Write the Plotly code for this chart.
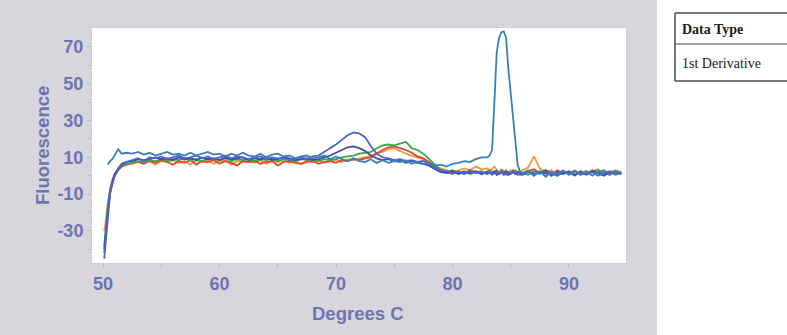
import plotly.graph_objects as go

# ---- temperature grid (degrees C) ----
temps_start = [50.1, 50.2, 50.4, 50.6, 50.8, 51.0, 51.3, 51.6, 52.0]
temps_mid = [52.5, 53.0, 53.5, 54.0, 54.5, 55.0, 55.5, 56.0, 56.5, 57.0,
             57.5, 58.0, 58.5, 59.0, 59.5, 60.0, 60.5, 61.0, 61.5, 62.0,
             62.5, 63.0, 63.5, 64.0, 64.5, 65.0, 65.5, 66.0, 66.5, 67.0,
             67.5, 68.0, 68.5, 69.0, 69.5, 70.0, 70.5, 71.0, 71.5, 72.0,
             72.5, 73.0, 73.5, 74.0, 74.5, 75.0, 75.5, 76.0, 76.5, 77.0,
             77.5, 78.0, 78.5, 79.0, 79.5, 80.0, 80.5, 81.0, 81.5, 82.0,
             82.5]
temps_peak = [83.0, 83.2, 83.4, 83.6, 83.8, 84.0, 84.2, 84.4, 84.6, 84.8,
              85.0, 85.2, 85.4, 85.6, 85.8]
temps_end = [86.0, 86.5, 87.0, 87.5, 88.0, 88.5, 89.0, 89.5, 90.0, 90.5,
             91.0, 91.5, 92.0, 92.5, 93.0, 93.5, 94.0, 94.5]
temps = temps_start + temps_mid + temps_peak + temps_end

# ---- series values (1st derivative fluorescence) ----
steel_blue = (
    [None, None, 6, 8, 9, 11, 14.5, 12, 12.5]
    + [12, 13, 11.5, 12.5, 11, 12, 13, 11.5, 12, 11,
       12.5, 11, 12, 13, 11.5, 12, 10.5, 12, 11, 12.5,
       11, 10.5, 12, 10, 11.5, 12, 10.5, 11, 9.5, 10.5,
       11, 9.5, 10, 11, 9, 10.5, 9, 8, 9.5, 8,
       7.5, 9, 7, 8.5, 7, 8, 7.5, 8.5, 6.5, 7.5,
       6.5, 7, 5.5, 6, 5, 6.5, 7, 8, 7.5, 9,
       10]
    + [10, 11, 14, 40, 67, 75, 78, 78.5, 75, 58, 45, 31, 18, 6, 2]
    + [1.5, 3, 0, 2.5, -0.5, 2, 1, 3, 0.5, 2.5,
       1, 2.5, 0, 2, 3, 1, 2.5, 1.5]
)
royal_blue = (
    [-45, -38, -22, -10, -4, 0, 4, 6, 7.5]
    + [8.5, 9.5, 8, 10, 9.5, 10.5, 9, 10, 11, 9.5,
       10, 11, 9.5, 10.5, 9, 10, 11, 9.5, 10.5, 10,
       9, 10, 10.5, 9, 10, 9.5, 10, 8.5, 9.5, 10,
       9, 10.5, 11, 13, 15, 17, 19.5, 22, 23.5, 23,
       21, 16, 12, 10, 9.5, 8.5, 9, 8, 8.5, 7.5,
       8, 6.5, 4, 3, 2.5, 1.5, 2, 1, 2.5, 1.5,
       2]
    + [1, 2, 0.5, 1.5, 2.5, 1, 2, 0.5, 1.5, 2, 1, 2.5, 1.5, 0.5, 2]
    + [1, 2, 0.5, 2.5, 1, 1.5, 0, 2, 1, 2.5,
       0.5, 1.5, 2, 0, 1.5, 2.5, 1, 2]
)
navy = (
    [-40, -34, -20, -9, -3, 1, 4, 6.5, 7.5]
    + [8, 9, 8.5, 9, 10, 9, 9.5, 8.5, 10, 9,
       9.5, 8.5, 10, 9, 9.5, 8.5, 10, 9, 9.5, 10,
       8.5, 9.5, 9, 10, 8.5, 9, 10, 9.5, 8.5, 9,
       9.5, 8.5, 9, 10, 11, 12.5, 14, 15.5, 16, 15,
       13.5, 11, 9.5, 8.5, 9, 8, 8.5, 7, 8, 7,
       6.5, 5.5, 3.5, 2, 1.5, 2.5, 1, 2, 1.5, 2.5,
       1]
    + [2, 1.5, 1, 2.5, 0.5, 1.5, 2, 1, 2.5, 0.5, 1.5, 2, 1, 2, 1.5]
    + [0.5, 2.5, 1, 1.5, 3, 0, 2, 1, 2.5, 0.5,
       2, 1, 2.5, 1.5, 0, 2, 1.5, 1]
)
green = (
    [-38, -30, -18, -8, -3, 0.5, 3.5, 5.5, 6.5]
    + [7, 8, 7.5, 8.5, 8, 9, 8, 9, 8.5, 9.5,
       8.5, 9, 8, 9.5, 9, 8.5, 9.5, 8, 9, 8.5,
       9, 8, 9, 8.5, 9.5, 8, 9, 8.5, 8, 9,
       8.5, 9, 8, 9, 8.5, 9, 10, 10.5, 11, 12,
       12.5, 13, 15, 16.5, 17, 16.5, 17.5, 18.5, 15, 14,
       12, 9, 6, 3, 2, 3, 1.5, 2.5, 1, 2,
       2.5]
    + [1, 3, 2, 1.5, 2.5, 1, 3, 2, 1.5, 0.5, 2, 1.5, 3, 1, 2]
    + [1.5, 0.5, 2.5, 1, 3, 1.5, 0, 2, 1, 2.5,
       1.5, 0.5, 2, 3, 1, 2, 0.5, 1.5]
)
orange = (
    [-30, -26, -15, -7, -2, 1, 3, 5, 6]
    + [6.5, 7.5, 7, 8, 6, 8, 7.5, 8.5, 7, 8,
       6, 8.5, 7.5, 8, 6.5, 8, 8.5, 6, 8, 7.5,
       8, 7, 8.5, 6.5, 8, 7.5, 8.5, 7, 8, 6.5,
       8, 7.5, 8.5, 7, 8, 8.5, 7.5, 9, 8.5, 9.5,
       10, 11, 12.5, 13, 14.5, 15, 13.5, 12, 11, 10,
       9, 7, 5, 4, 3, 2, 3, 4, 3, 5,
       3.5]
    + [4, 2.5, 3.5, 5, 3, 2, 3.5, 2, 3, 1.5, 3, 2, 2.5, 1.5, 2]
    + [3, 4.5, 10.5, 4, 2, 3, 1, 2.5, 1.5, 3,
       0.5, 2, 2.5, 3.5, 1, 2, 3, 2]
)
red = (
    [-42, -34, -19, -9, -4, 0, 3, 5, 6]
    + [7, 7.5, 6.5, 8, 7, 8.5, 7.5, 6, 8, 7,
       8.5, 6, 8, 7.5, 8.5, 6.5, 8, 7, 5.5, 8,
       7.5, 8, 6.5, 7.5, 8, 5.5, 7.5, 8, 7, 6.5,
       7.5, 8, 6.5, 7.5, 8, 7, 8.5, 8, 9, 8.5,
       9.5, 10, 12, 14, 15.5, 16, 15, 14, 12.5, 10.5,
       9.5, 7.5, 5, 3, 2, 1, 2.5, 1.5, 3, 2,
       1]
    + [2.5, 1.5, 1, 2, 3, 1, 1.5, 2.5, 0.5, 2, 1.5, 3, 1, 2, 0.5]
    + [1, 2.5, 3.5, 1.5, 2, 0.5, 3, 1.5, 2, 0,
       2.5, 1, 3, 1.5, 2, 0.5, 2.5, 1]
)

series_names = ["Orange", "Red", "Green", "Navy", "Royal blue", "Steel blue"]
series_values = [orange, red, green, navy, royal_blue, steel_blue]
series_colors = ["#f09a35", "#e0482e", "#3fa648", "#3c4fa8", "#4f62d6", "#3a80b8"]

x_ticks = [50, 60, 70, 80, 90]
x_tick_text = ["50", "60", "70", "80", "90"]
y_ticks = [70, 50, 30, 10, -10, -30]
y_tick_text = ["70", "50", "30", "10", "-10", "-30"]

# ---- layout geometry (pixels) ----
W, H = 787, 335
L, R, T, B = 92, 626, 28, 263

def px_x(p):
    return (p - L) / (R - L)

def px_y(p):
    return (B - p) / (B - T)

fig = go.Figure()
for name, vals, col in zip(series_names, series_values, series_colors):
    fig.add_trace(go.Scatter(x=temps, y=vals, mode="lines", name=name,
                             line=dict(color=col, width=1.8), showlegend=False))

label_color = "#6c74b2"
tick_font = dict(family="Liberation Sans, Arial", size=18, color=label_color, weight="bold")

fig.update_xaxes(range=[49.05, 94.9], tickvals=x_ticks, ticktext=x_tick_text,
                 ticks="outside", ticklen=4,
                 tickcolor="#b8b8c8", showgrid=False, zeroline=False,
                 showline=True, linecolor="#cfcfd8", linewidth=1, mirror=True,
                 tickfont=tick_font,
                 minor=dict(tickvals=[55, 65, 75, 85, 95], ticks="outside",
                            ticklen=4, tickcolor="#b8b8c8"))
fig.update_yaxes(range=[-47.4, 80.3], tickvals=y_ticks, ticktext=y_tick_text,
                 ticks="outside", ticklen=4,
                 tickcolor="#b8b8c8", showgrid=False, zeroline=False,
                 showline=True, linecolor="#cfcfd8", linewidth=1, mirror=True,
                 tickfont=tick_font,
                 minor=dict(tickvals=[60, 40, 20, 0, -20, -40], ticks="outside",
                            ticklen=4, tickcolor="#b8b8c8"))

shapes = [
    # white area to the right of the grey panel
    dict(type="rect", xref="paper", yref="paper", x0=px_x(657), x1=px_x(W + 20),
         y0=px_y(H + 20), y1=px_y(-20), fillcolor="white", line=dict(width=0),
         layer="below"),
    # data type table borders
    dict(type="line", xref="paper", yref="paper", x0=px_x(675), x1=px_x(W + 10),
         y0=px_y(13), y1=px_y(13), line=dict(color="#4a4a4a", width=1.5)),
    dict(type="line", xref="paper", yref="paper", x0=px_x(675), x1=px_x(W + 10),
         y0=px_y(44), y1=px_y(44), line=dict(color="#4a4a4a", width=1.2)),
    dict(type="line", xref="paper", yref="paper", x0=px_x(675), x1=px_x(W + 10),
         y0=px_y(81), y1=px_y(81), line=dict(color="#4a4a4a", width=1.5)),
    dict(type="line", xref="paper", yref="paper", x0=px_x(675), x1=px_x(675),
         y0=px_y(13), y1=px_y(81), line=dict(color="#4a4a4a", width=1.5)),
]

title_font = dict(family="Liberation Sans, Arial", size=18.5, color=label_color, weight="bold")
annotations = [
    dict(text="Degrees C", xref="paper", yref="paper", x=px_x(358), y=px_y(313),
         xanchor="center", yanchor="middle", showarrow=False, font=title_font),
    dict(text="Fluorescence", xref="paper", yref="paper", x=px_x(42), y=px_y(146),
         xanchor="center", yanchor="middle", showarrow=False, textangle=-90,
         font=title_font),
    dict(text="<b>Data Type</b>", xref="paper", yref="paper", x=px_x(680), y=px_y(29),
         xanchor="left", yanchor="middle", showarrow=False,
         font=dict(family="Liberation Serif, Times New Roman", size=14, color="#1a1a1a")),
    dict(text="1st Derivative", xref="paper", yref="paper", x=px_x(680), y=px_y(63),
         xanchor="left", yanchor="middle", showarrow=False,
         font=dict(family="Liberation Serif, Times New Roman", size=14, color="#1a1a1a")),
]

fig.update_layout(width=W, height=H, margin=dict(l=L, r=W - R, t=T, b=H - B),
                  paper_bgcolor="#d9d5dc", plot_bgcolor="white",
                  shapes=shapes, annotations=annotations, showlegend=False)

fig.write_html("out.html", config={"displayModeBar": False},
               post_script="document.body.style.margin='0';document.body.style.overflow='hidden';")
